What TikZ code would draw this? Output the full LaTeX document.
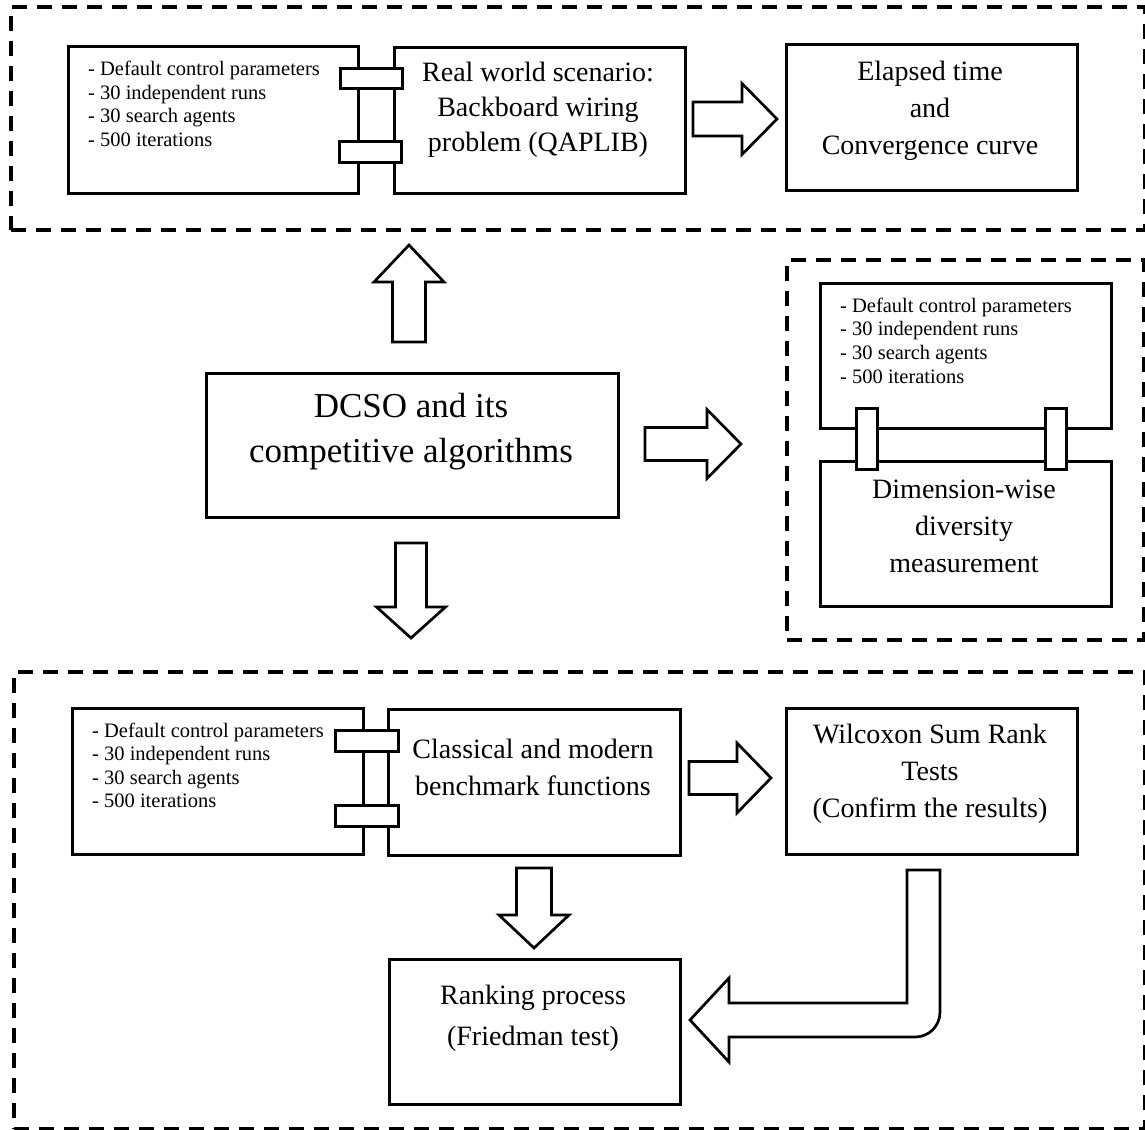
\documentclass[tikz,border=0pt]{standalone}
\usepackage{fontspec}
\setmainfont{Liberation Serif}
\newcommand{\ctext}[1]{\begin{tabular}[t]{@{}c@{}}#1\end{tabular}}
\newcommand{\ltext}[1]{\begin{tabular}[t]{@{}l@{}}#1\end{tabular}}
\tikzset{
  boxnode/.style={draw, line width=3pt, fill=white, rectangle, inner sep=0pt, anchor=north west},
  connrect/.style={draw, line width=3pt, fill=white, rectangle, inner sep=0pt},
  framebox/.style={draw, line width=4pt, dash pattern=on 15pt off 10pt, rectangle, inner sep=0pt, anchor=north west},
  blockarrow/.style={draw, line width=2.7pt, fill=white, line join=miter},
  paramtxt/.style={inner sep=0pt, anchor=base west, font=\fontsize{20.5}{23.5}\selectfont},
  maintxt/.style={inner sep=0pt, anchor=base, font=\fontsize{28}{36}\selectfont},
  pics/barrow/.style n args={4}{code={
    \draw[blockarrow] (0,-#2) -- (#1-#4,-#2) -- (#1-#4,-#3) -- (#1,0) -- (#1-#4,#3) -- (#1-#4,#2) -- (0,#2) -- cycle;}}
}
\begin{document}
\begin{tikzpicture}[x=1pt, y=-1pt]
\useasboundingbox (0,0) rectangle (1145,1129);

% dashed group frames
\node[framebox, minimum width=1134pt, minimum height=223pt] (g1) at (9,5) {};
\node[framebox, minimum width=357pt, minimum height=380pt] (g2) at (785,258) {};
\node[framebox, minimum width=1131pt, minimum height=457pt] (g3) at (12,670) {};

% top section
\node[boxnode, minimum width=290pt, minimum height=147pt] (p1) at (67,45) {};
\node[boxnode, minimum width=291pt, minimum height=146pt] (b1) at (393,46) {};
\node[boxnode, minimum width=291pt, minimum height=146pt] (b2) at (785,43) {};
\node[connrect, minimum width=62pt, minimum height=20pt] (c1) at (371,78.5) {};
\node[connrect, minimum width=62pt, minimum height=21pt] (c2) at (370,152) {};

% middle
\node[boxnode, minimum width=412pt, minimum height=144pt] (dcso) at (205,372) {};
\node[boxnode, minimum width=291pt, minimum height=145pt] (p2) at (819,282) {};
\node[boxnode, minimum width=291pt, minimum height=145pt] (b3) at (819,460) {};
\node[connrect, minimum width=21pt, minimum height=61pt] (c3) at (867,439) {};
\node[connrect, minimum width=21pt, minimum height=61pt] (c4) at (1055.5,439) {};

% bottom section
\node[boxnode, minimum width=291pt, minimum height=146pt] (p3) at (71,707) {};
\node[boxnode, minimum width=292pt, minimum height=146pt] (b4) at (387,708) {};
\node[boxnode, minimum width=291pt, minimum height=146pt] (b5) at (785,707) {};
\node[boxnode, minimum width=291pt, minimum height=145pt] (b6) at (388,958) {};
\node[connrect, minimum width=63pt, minimum height=21pt] (c5) at (367,741) {};
\node[connrect, minimum width=63pt, minimum height=21pt] (c6) at (367,816) {};

% block arrows
\pic at (693,119) {barrow={84}{17}{35.5}{35}};
\pic[rotate=90] at (409,342) {barrow={97}{16.5}{35}{37}};
\pic at (645,444) {barrow={96}{16.5}{34.5}{34}};
\pic[rotate=-90] at (411,543) {barrow={95}{15.5}{34.5}{31}};
\pic at (689,778) {barrow={82}{16.5}{35}{34}};
\pic[rotate=-90] at (534,868) {barrow={80}{17.5}{35}{33}};
\draw[blockarrow] (907,870) -- (940,870) -- (940,1012)
  .. controls (940,1026) and (929,1037) .. (915,1037) -- (729,1037) -- (729,1062)
  -- (690,1020) -- (729,978) -- (729,1003) -- (907,1003) -- cycle;

% texts
\node[paramtxt] (tp1) at (88,76) {\ltext{- Default control parameters\\- 30 independent runs\\- 30 search agents\\- 500 iterations}};
\node[maintxt, font=\fontsize{28}{35}\selectfont] (tb1) at (538,82) {\ctext{Real world scenario:\\Backboard wiring\\problem (QAPLIB)}};
\node[maintxt, font=\fontsize{28}{37}\selectfont] (tb2) at (930,81) {\ctext{Elapsed time\\and\\Convergence curve}};
\node[maintxt, font=\fontsize{35}{45}\selectfont] (tdcso) at (411,417) {\ctext{DCSO and its\\competitive algorithms}};
\node[paramtxt, font=\fontsize{20.5}{23.7}\selectfont] (tp2) at (840,312) {\ltext{- Default control parameters\\- 30 independent runs\\- 30 search agents\\- 500 iterations}};
\node[maintxt, font=\fontsize{28}{37}\selectfont] (tb3) at (964,498) {\ctext{Dimension-wise\\diversity\\measurement}};
\node[paramtxt] (tp3) at (92,737) {\ltext{- Default control parameters\\- 30 independent runs\\- 30 search agents\\- 500 iterations}};
\node[maintxt, font=\fontsize{28}{37}\selectfont] (tb4) at (533,758) {\ctext{Classical and modern\\benchmark functions}};
\node[maintxt, font=\fontsize{28}{37}\selectfont] (tb5) at (930,743) {\ctext{Wilcoxon Sum Rank\\Tests\\(Confirm the results)}};
\node[maintxt, font=\fontsize{28}{41}\selectfont] (tb6) at (533,1004) {\ctext{Ranking process\\(Friedman test)}};
\end{tikzpicture}
\end{document}
